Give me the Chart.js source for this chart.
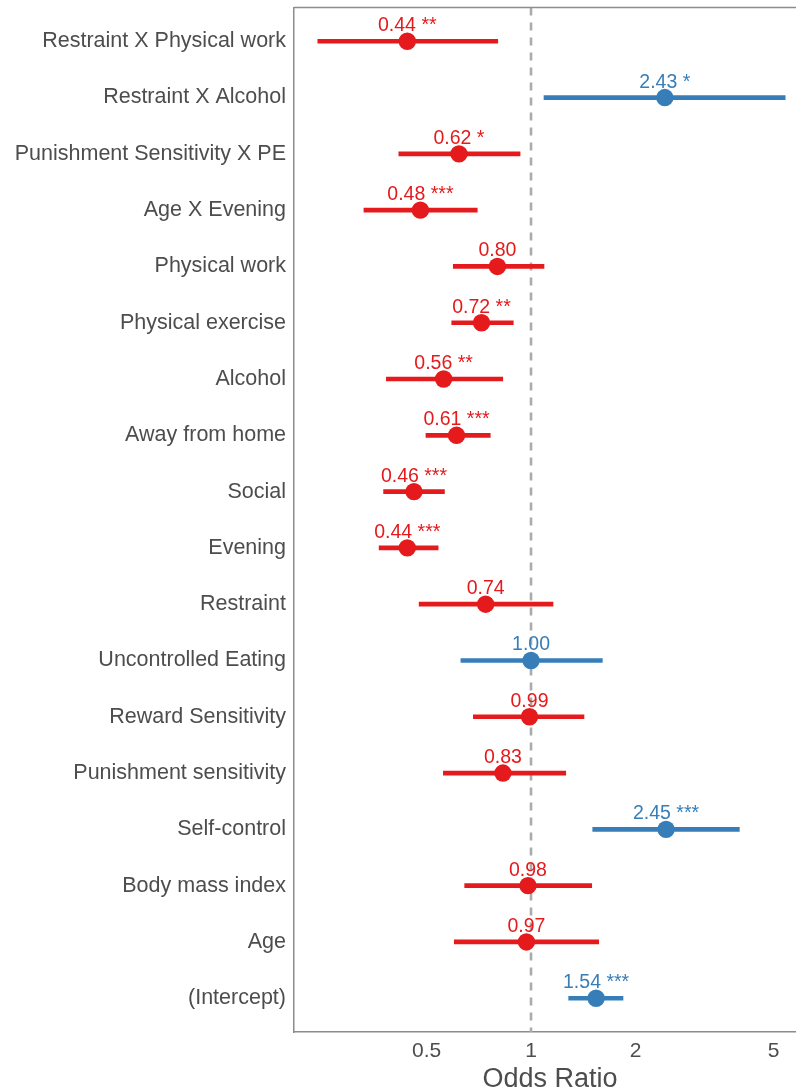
<!DOCTYPE html>
<html>
<head>
<meta charset="utf-8">
<script src="https://cdn.jsdelivr.net/npm/chart.js@4/dist/chart.umd.min.js"></script>
<style>
  html, body { margin: 0; padding: 0; background: #ffffff; overflow: hidden; }
  /* the plot panel runs a little past the right edge of the page */
  #wrap { width: 796px; height: 1091px; overflow: hidden; }
  #forest { display: block; }
</style>
</head>
<body>
<div id="wrap"><canvas id="forest" width="806" height="1091"></canvas></div>
<script>
// Model terms, top to bottom
const terms = [
  'Restraint X Physical work',
  'Restraint X Alcohol',
  'Punishment Sensitivity X PE',
  'Age X Evening',
  'Physical work',
  'Physical exercise',
  'Alcohol',
  'Away from home',
  'Social',
  'Evening',
  'Restraint',
  'Uncontrolled Eating',
  'Reward Sensitivity',
  'Punishment sensitivity',
  'Self-control',
  'Body mass index',
  'Age',
  '(Intercept)'
];

// Odds ratios with 95% confidence limits
const oddsRatio = [0.44, 2.43, 0.62, 0.48, 0.80, 0.72, 0.56, 0.61, 0.46, 0.44, 0.74, 1.00, 0.99, 0.83, 2.45, 0.98, 0.97, 1.54];
const ciLow     = [0.243, 1.09, 0.416, 0.330, 0.597, 0.591, 0.383, 0.498, 0.376, 0.365, 0.476, 0.628, 0.682, 0.559, 1.506, 0.644, 0.601, 1.284];
const ciHigh    = [0.802, 5.40, 0.930, 0.700, 1.090, 0.889, 0.829, 0.763, 0.563, 0.540, 1.157, 1.605, 1.421, 1.259, 3.984, 1.496, 1.567, 1.841];
const stars     = ['**', '*', '*', '***', '', '**', '**', '***', '***', '***', '', '', '', '', '***', '', '', '***'];

// Axis ticks
const xTicks = [0.5, 1, 2, 5];

const RED = '#E41A1C';
const BLUE = '#377EB8';
const TEXT = '#4D4D4D';
const FRAME = '#8C8C8C';
const FONT = "'Liberation Sans', Arial, sans-serif";

const colorFor = v => (v >= 1 ? BLUE : RED);
const pointColors = oddsRatio.map(colorFor);

// Dashed reference line at OR = 1 and a top frame line
const frameAndReference = {
  id: 'frameAndReference',
  beforeDatasetsDraw(chart) {
    const { ctx, chartArea, scales } = chart;
    const x1 = scales.x.getPixelForValue(1);
    ctx.save();
    ctx.strokeStyle = '#ABABAB';
    ctx.lineWidth = 2.6;
    ctx.setLineDash([8, 7]);
    ctx.beginPath();
    ctx.moveTo(x1, chartArea.top);
    ctx.lineTo(x1, chartArea.bottom);
    ctx.stroke();
    ctx.setLineDash([]);
    ctx.strokeStyle = FRAME;
    ctx.lineWidth = 1.5;
    ctx.beginPath();
    ctx.moveTo(chartArea.left, chartArea.top);
    ctx.lineTo(chartArea.right, chartArea.top);
    ctx.stroke();
    ctx.restore();
  }
};

// Value label with significance stars above each estimate
const valueLabels = {
  id: 'valueLabels',
  afterDatasetsDraw(chart) {
    const { ctx } = chart;
    const meta = chart.getDatasetMeta(1);
    ctx.save();
    ctx.font = '19.5px ' + FONT;
    ctx.textAlign = 'center';
    ctx.textBaseline = 'alphabetic';
    meta.data.forEach((pt, i) => {
      const txt = oddsRatio[i].toFixed(2) + (stars[i] ? ' ' + stars[i] : '');
      ctx.fillStyle = pointColors[i];
      ctx.fillText(txt, pt.x, pt.y - 10);
    });
    ctx.restore();
  }
};

function noEdgePadding(scale) {
  scale.paddingLeft = 0;
  scale.paddingRight = 0;
  scale.paddingTop = 0;
  scale.paddingBottom = 0;
}

new Chart(document.getElementById('forest'), {
  type: 'bar',
  data: {
    datasets: [
      {
        type: 'bar',
        indexAxis: 'y',
        data: terms.map((t, i) => ({ y: i, x: [ciLow[i], ciHigh[i]] })),
        backgroundColor: pointColors,
        borderWidth: 0,
        barThickness: 4,
        order: 2
      },
      {
        type: 'scatter',
        data: terms.map((t, i) => ({ x: oddsRatio[i], y: i })),
        backgroundColor: pointColors,
        borderColor: pointColors,
        borderWidth: 0,
        pointRadius: 8.7,
        pointHoverRadius: 8.7,
        order: 1
      }
    ]
  },
  options: {
    responsive: false,
    animation: false,
    devicePixelRatio: 1,
    indexAxis: 'y',
    layout: { autoPadding: false, padding: { top: 7.5, right: 0, bottom: 0, left: 0 } },
    plugins: {
      legend: { display: false },
      tooltip: { enabled: false }
    },
    scales: {
      x: {
        type: 'logarithmic',
        position: 'bottom',
        min: 0.2075,
        max: 6.2,
        offset: false,
        grid: { display: false, drawTicks: false },
        border: { display: true, color: FRAME, width: 1.5 },
        afterBuildTicks(scale) {
          scale.ticks = xTicks.map(v => ({ value: v }));
        },
        afterFit(scale) {
          scale.height = 59;
          noEdgePadding(scale);
        },
        ticks: {
          autoSkip: false,
          maxRotation: 0,
          padding: 7,
          color: TEXT,
          font: { family: FONT, size: 21 },
          callback: v => String(v)
        },
        title: {
          display: true,
          text: 'Odds Ratio',
          color: TEXT,
          font: { family: FONT, size: 27, lineHeight: 1 },
          padding: { top: 0, bottom: -2 }
        }
      },
      y: {
        type: 'linear',
        position: 'left',
        reverse: true,
        offset: false,
        min: -0.6,
        max: terms.length - 1 + 0.6,
        grid: { display: false, drawTicks: false },
        border: { display: true, color: FRAME, width: 1.5 },
        afterBuildTicks(scale) {
          scale.ticks = terms.map((t, i) => ({ value: i }));
        },
        afterFit(scale) {
          scale.width = 294;
          noEdgePadding(scale);
        },
        ticks: {
          autoSkip: false,
          padding: 8,
          color: TEXT,
          font: { family: FONT, size: 21.5 },
          callback: v => terms[v] ?? ''
        }
      }
    }
  },
  plugins: [frameAndReference, valueLabels]
});
</script>
</body>
</html>
